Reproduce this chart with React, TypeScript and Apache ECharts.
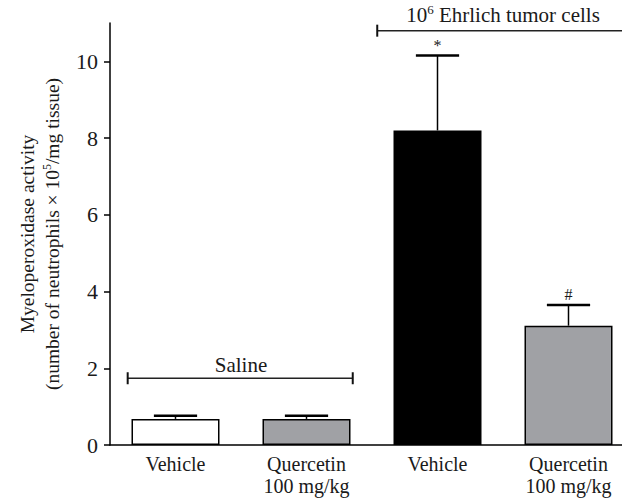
import React, { useEffect, useRef } from "react";
import * as echarts from "echarts";

const categories = ["Vehicle", "Quercetin\n100 mg/kg", "Vehicle", "Quercetin\n100 mg/kg"];
const means = [0.68, 0.68, 8.2, 3.11];
const errorsUp = [0.08, 0.08, 1.95, 0.54];
const barColors = ["#ffffff", "#a0a1a5", "#000000", "#a0a1a5"];
const significance = ["", "", "*", "#"];
const yTicks = [0, 2, 4, 6, 8, 10];

const groupLabels = ["Saline", "{t|10}{s|6}{t| Ehrlich tumor cells}"];
const groupFirst = [0, 2];
const groupLast = [1, 3];
const groupLineStart = [-0.365, 1.54];
const groupLineEnd = [1.353, 3.7];
const groupLineValue = [1.74, 10.8];
const groupEndTicks = [[true, true], [true, false]];

const FONT = "'Liberation Serif', 'DejaVu Serif', serif";
const FS = 20;
const TXT = "#1a1a1a";

export default function App() {
  const ref = useRef<HTMLDivElement>(null);
  useEffect(() => {
    if (!ref.current) return;
    const chart = echarts.init(ref.current, null, { renderer: "svg" });
    const option: any = {
      animation: false,
      backgroundColor: "#ffffff",
      grid: { left: 110, top: 23, bottom: 55, width: 524, containLabel: false },
      xAxis: {
        type: "category",
        data: categories,
        axisLine: { lineStyle: { color: "#000", width: 1.5 } },
        axisTick: { show: false },
        axisLabel: {
          color: TXT,
          fontFamily: FONT,
          fontSize: FS,
          lineHeight: 22,
          margin: 8,
          interval: 0,
        },
      },
      yAxis: {
        type: "value",
        min: 0,
        max: 11,
        interval: 2,
        splitLine: { show: false },
        axisLine: { show: true, lineStyle: { color: "#000", width: 1.5 } },
        axisTick: { show: true, length: 6, lineStyle: { color: "#000", width: 1.5 }, customValues: yTicks },
        axisLabel: {
          color: TXT,
          fontFamily: FONT,
          fontSize: 22,
          margin: 12,
          customValues: yTicks,
        },
        name: "{t|Myeloperoxidase activity}\n{t|(number of neutrophils × 10}{s|5}{t|/mg tissue)}",
        nameLocation: "middle",
        nameGap: 44,
        nameRotate: 90,
        nameTextStyle: {
          color: TXT,
          fontFamily: FONT,
          fontSize: 19.5,
          lineHeight: 25,
          rich: {
            t: { fontFamily: FONT, fontSize: 19.5, color: TXT, lineHeight: 25 },
            s: { fontFamily: FONT, fontSize: 12, color: TXT, padding: [0, 0, 12, 0], lineHeight: 25 },
          },
        },
      },
      series: [
        {
          type: "bar",
          barWidth: 88,
          data: means.map((v, i) => ({
            value: v,
            itemStyle: { color: barColors[i], borderColor: "#000", borderWidth: 1.5 },
          })),
          z: 2,
        },
        {
          type: "custom",
          z: 3,
          data: means.map((v, i) => [i, v, v + errorsUp[i]]),
          renderItem: (params: any, api: any) => {
            const idx = params.dataIndex;
            const x = api.value(0);
            const lo = api.coord([x, api.value(1)]);
            const hi = api.coord([x, api.value(2)]);
            const bw = api.size([1, 0])[0];
            const half = bw * 0.165;
            const children: any[] = [
              { type: "line", shape: { x1: lo[0], y1: lo[1], x2: hi[0], y2: hi[1] }, style: { stroke: "#000", lineWidth: 1.5 } },
              { type: "line", shape: { x1: hi[0] - half, y1: hi[1], x2: hi[0] + half, y2: hi[1] }, style: { stroke: "#000", lineWidth: 2.5 } },
            ];
            if (significance[idx]) {
              children.push({
                type: "text",
                style: {
                  text: significance[idx],
                  x: hi[0],
                  y: hi[1] - 2,
                  textAlign: "center",
                  textVerticalAlign: "bottom",
                  fontFamily: FONT,
                  fontSize: 16,
                  fill: TXT,
                },
              });
            }
            return { type: "group", children };
          },
        },
        {
          type: "custom",
          z: 3,
          clip: false,
          data: groupLabels.map((_, i) => [groupFirst[i], groupLast[i], groupLineValue[i], i]),
          renderItem: (params: any, api: any) => {
            const i = params.dataIndex;
            const y = api.value(2);
            const c0 = api.coord([0, y]);
            const bw = api.size([1, 0])[0];
            const xs = c0[0] + groupLineStart[i] * bw;
            const xe = c0[0] + groupLineEnd[i] * bw;
            const yy = c0[1];
            const cx = c0[0] + ((api.value(0) + api.value(1)) / 2) * bw;
            const children: any[] = [
              { type: "line", shape: { x1: xs, y1: yy, x2: xe, y2: yy }, style: { stroke: "#222", lineWidth: 1.5 } },
            ];
            if (groupEndTicks[i][0]) {
              children.push({ type: "line", shape: { x1: xs, y1: yy - 6, x2: xs, y2: yy + 6 }, style: { stroke: "#111", lineWidth: 2 } });
            }
            if (groupEndTicks[i][1]) {
              children.push({ type: "line", shape: { x1: xe, y1: yy - 6, x2: xe, y2: yy + 6 }, style: { stroke: "#111", lineWidth: 2 } });
            }
            children.push({
              type: "text",
              style: {
                text: groupLabels[i],
                x: cx,
                y: yy - 3,
                textAlign: "center",
                textVerticalAlign: "bottom",
                fontFamily: FONT,
                fontSize: 21,
                fill: TXT,
                rich: {
                  t: { fontFamily: FONT, fontSize: 21, fill: TXT, color: TXT },
                  s: { fontFamily: FONT, fontSize: 13, fill: TXT, color: TXT, padding: [0, 0, 12, 0] },
                },
              },
            });
            return { type: "group", children };
          },
        },
      ],
    };
    chart.setOption(option);
    return () => chart.dispose();
  }, []);
  return (
    <div style={{ position: "fixed", left: 0, top: 0, width: 622, height: 500, overflow: "hidden", background: "#fff" }}>
      <div ref={ref} style={{ width: 650, height: 500 }} />
    </div>
  );
}
